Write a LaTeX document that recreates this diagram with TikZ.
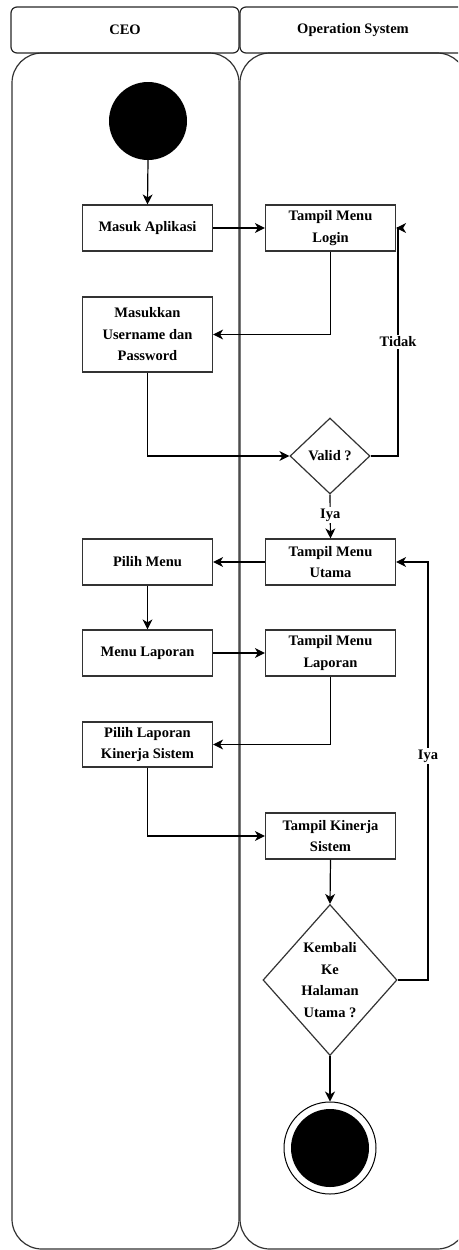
\documentclass[tikz,border=0pt]{standalone}
\usepackage{fontspec}
\setmainfont{Liberation Serif}
\usetikzlibrary{arrows.meta,shapes.geometric,calc}

\tikzset{
  lane/.style={draw=black!80, line width=1.2pt, rounded corners=30pt},
  lanehead/.style={draw=black!85, line width=1.2pt, rounded corners=6pt},
  act/.style={draw=black!80, line width=1.2pt, fill=white, rectangle,
    minimum width=130pt, minimum height=46pt, inner sep=2pt, align=center,
    font=\bfseries\fontsize{14.5}{21.5}\selectfont},
  dia/.style={draw=black!80, line width=1.2pt, fill=white, diamond,
    inner sep=0pt},
  txt/.style={align=center, inner sep=0pt, font=\bfseries\fontsize{14.5}{21.5}\selectfont},
  lbl/.style={fill=white, inner sep=1.5pt, font=\bfseries\fontsize{14.5}{16}\selectfont},
  flow/.style={draw=black, line width=1.2pt,
    -{Stealth[length=10pt, width=10pt, inset=3pt]}},
}

\begin{document}
\begin{tikzpicture}[x=1pt, y=-1pt]
\useasboundingbox (0,0) rectangle (458,1250);
\clip (0,0) rectangle (458,1250);

% swimlanes
\draw[lane] (12,53) rectangle (239,1249);
\draw[lane] (240,53) rectangle (467,1249);
\draw[lanehead] (11,7) rectangle (239,53);
\draw[lanehead] (240,7) rectangle (468,53);
\node[txt] (hceo) at (125,30) {CEO};
\node[txt] (hops) at (353,30) {Operation System};

% start / end
\node[circle, fill=black, minimum size=78pt, inner sep=0pt] (start) at (148,121) {};
\node[circle, draw=black, line width=1pt, fill=white, minimum size=92pt, inner sep=0pt] (end) at (330,1148) {};
\node[circle, fill=black, minimum size=78pt, inner sep=0pt] (endin) at (end) {};

% activities
\node[act] (masuk) at (147.5,228) {Masuk Aplikasi};
\node[act] (login) at (330.5,228) {Tampil Menu\\Login};
\node[act, minimum height=75pt] (masukkan) at (147.5,334.5) {Masukkan\\Username dan\\Password};
\node[dia, minimum width=80pt, minimum height=76pt] (valid) at (330,456) {};
\node[txt] (validt) at (valid) {Valid ?};
\node[act] (utama) at (330.5,562) {Tampil Menu\\Utama};
\node[act] (pilih) at (147.5,562) {Pilih Menu};
\node[act] (menulap) at (147.5,653) {Menu Laporan};
\node[act] (tampillap) at (330.5,653) {Tampil Menu\\Laporan};
\node[act, minimum height=45pt] (pilihlap) at (147.5,744.5) {Pilih Laporan\\Kinerja Sistem};
\node[act] (kinerja) at (330.5,836) {Tampil Kinerja\\Sistem};
\node[dia, minimum width=134pt, minimum height=151pt] (kembali) at (330,980) {};
\node[txt] (kembalit) at (kembali) {Kembali\\Ke\\Halaman\\Utama ?};

% bends of the return loops
\coordinate (tbend) at (398,456);
\coordinate (ibend) at (428,980);

% flows
\draw[flow] (start.south) -- (masuk.north);
\draw[flow] (masuk.east) -- (login.west);
\draw[flow] (login.south) |- (masukkan.east);
\draw[flow] (masukkan.south) |- (valid.west);
\draw[flow] (valid.east) -- (tbend) |- node[lbl, pos=0.25] {Tidak} (login.east);
\draw[flow] (valid.south) -- node[lbl, pos=0.47] {Iya} (utama.north);
\draw[flow] (utama.west) -- (pilih.east);
\draw[flow] (pilih.south) -- (menulap.north);
\draw[flow] (menulap.east) -- (tampillap.west);
\draw[flow] (tampillap.south) |- (pilihlap.east);
\draw[flow] (pilihlap.south) |- (kinerja.west);
\draw[flow] (kinerja.south) -- (kembali.north);
\draw[flow] (kembali.east) -- (ibend) |- node[lbl, pos=0.268] {Iya} (utama.east);
\draw[flow] (kembali.south) -- (end.north);
\end{tikzpicture}
\end{document}
